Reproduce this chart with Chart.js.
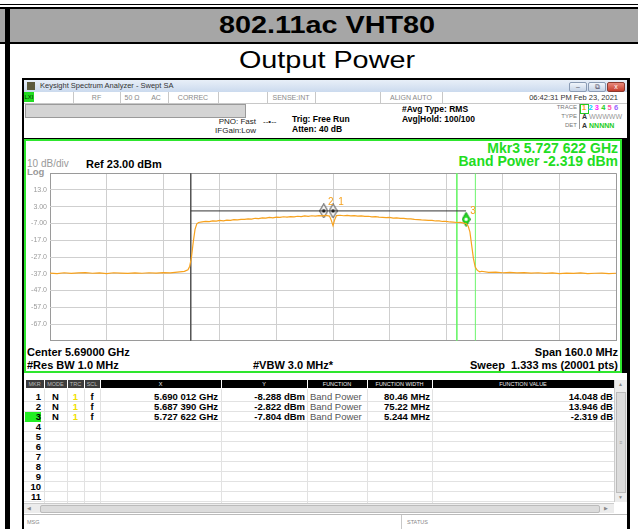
<!DOCTYPE html>
<html>
<head>
<meta charset="utf-8">
<title>802.11ac VHT80 Output Power</title>
<script src="https://cdn.jsdelivr.net/npm/chart.js@4.4.1/dist/chart.umd.min.js"></script>
<style>
  html, body { margin: 0; padding: 0; }
  body { width: 638px; height: 529px; overflow: hidden; position: relative; background: #fff;
         font-family: Arial, "Liberation Sans", sans-serif; color: #000; }
  .a { position: absolute; white-space: nowrap; }
  .b { font-weight: bold; }
  .vs { position: absolute; width: 1px; background: #c8c8c8; }
  .st { position: absolute; font-size: 7px; color: #8a8a8a; line-height: 11px; top: 92px; text-align: center; }
  .wb { position: absolute; top: 82px; width: 16px; height: 8px; border: 1px solid #8a9bb4; border-radius: 2px;
        background: linear-gradient(#f2f6fb, #c6d4e7); font-size: 7px; line-height: 8px; text-align: center; color: #556; }
  .hd { position: absolute; top: 380px; height: 8px; line-height: 8px; font-size: 5.5px; text-align: center; }
  .cell { position: absolute; font-size: 9.5px; line-height: 10px; height: 10px; }
</style>
</head>
<body>
<!-- page frame and titles -->
<div class="a" style="left:0;top:4px;width:638px;height:1px;background:#000"></div>
<div class="a" style="left:0;top:7px;width:638px;height:2px;background:#000"></div>
<div class="a" style="left:0;top:9px;width:638px;height:33px;background:#a6a6a6"></div>
<div class="a" style="left:0;top:42px;width:638px;height:2px;background:#000"></div>
<div class="a" style="left:5px;top:9px;width:5px;height:520px;background:#000"></div>
<div class="a b" style="left:8px;top:8px;width:638px;height:33px;line-height:33px;text-align:center;font-size:24px;transform:scaleX(1.2)">802.11ac VHT80</div>
<div class="a" style="left:8px;top:44px;width:638px;height:32px;line-height:32px;text-align:center;font-size:24px;transform:scaleX(1.2)">Output Power</div>

<!-- analyzer window -->
<div class="a" style="left:22px;top:78px;width:608px;height:460px;background:#000"></div>
<div class="a" style="left:24px;top:80px;width:603px;height:12px;background:linear-gradient(#e8eff8,#cbdaee)"></div>
<div class="a" style="left:27px;top:82px;width:8px;height:8px;background:#5b5a3c"></div>
<div class="a" style="left:40px;top:80px;height:12px;line-height:12px;font-size:7.5px;color:#333">Keysight Spectrum Analyzer - Swept SA</div>
<div class="wb" style="left:569px">&#8211;</div>
<div class="wb" style="left:588px">&#10697;</div>
<div class="wb" style="left:607px;background:linear-gradient(#e88a7c,#c63f2e);border-color:#8a3a30;color:#fff">x</div>

<!-- status row -->
<div class="a" style="left:24px;top:92px;width:603px;height:46px;background:#fff"></div>
<div class="a" style="left:24px;top:103px;width:603px;height:1px;background:#c8c8c8"></div>
<div class="a" style="left:24px;top:92px;width:10px;height:10px;background:#22dd22;font-size:6px;line-height:10px;text-align:center;color:#030">LXI</div>
<div class="vs" style="left:73px;top:92px;height:11px"></div>
<div class="vs" style="left:120px;top:92px;height:11px"></div>
<div class="vs" style="left:168px;top:92px;height:11px"></div>
<div class="vs" style="left:218px;top:92px;height:11px"></div>
<div class="vs" style="left:267px;top:92px;height:11px"></div>
<div class="vs" style="left:315px;top:92px;height:11px"></div>
<div class="vs" style="left:380px;top:92px;height:11px"></div>
<div class="vs" style="left:442px;top:92px;height:11px"></div>
<div class="st" style="left:73px;width:47px">RF</div>
<div class="st" style="left:120px;width:24px">50 &#937;</div>
<div class="st" style="left:144px;width:24px">AC</div>
<div class="st" style="left:168px;width:50px">CORREC</div>
<div class="st" style="left:267px;width:48px">SENSE:INT</div>
<div class="st" style="left:380px;width:62px">ALIGN AUTO</div>
<div class="st" style="left:520px;width:98px;text-align:right;color:#333;font-size:7.5px">06:42:31 PM Feb 23, 2021</div>

<!-- settings area -->
<div class="a" style="left:25px;top:104px;width:219px;height:12px;background:#d4d4d4;border:1px solid #9a9a9a"></div>
<div class="a" style="left:212px;top:117px;width:44px;text-align:right;font-size:8px;line-height:9px;color:#222">PNO: Fast</div>
<div class="a" style="left:212px;top:126px;width:44px;text-align:right;font-size:8px;line-height:9px;color:#222">IFGain:Low</div>
<div class="a" style="left:263px;top:117px;font-size:8px;line-height:9px;color:#222">--&#8226;--</div>
<div class="a b" style="left:292px;top:114px;font-size:8.5px;line-height:10px">Trig: Free Run</div>
<div class="a b" style="left:292px;top:124px;font-size:8.5px;line-height:10px">Atten: 40 dB</div>
<div class="a b" style="left:402px;top:104px;font-size:8.5px;line-height:10px">#Avg Type: RMS</div>
<div class="a b" style="left:402px;top:114px;font-size:8.5px;line-height:10px">Avg|Hold: 100/100</div>
<div class="a" style="left:540px;top:103px;width:37px;text-align:right;font-size:6px;line-height:9px;color:#777">TRACE<br>TYPE<br>DET</div>
<div class="a" style="left:579px;top:104px;width:45px;height:25px;border-left:1px solid #999"></div>
<div class="a" style="left:580px;top:104px;width:7px;height:8px;border:1px solid #2c2"></div>
<div class="a b" style="left:582px;top:103px;font-size:7.5px;line-height:10px;letter-spacing:2.2px">
  <span style="color:#f7a21e">1</span><span style="color:#00d0ff">2</span><span style="color:#ff22ff">3</span><span style="color:#22cc22">4</span><span style="color:#ff55aa">5</span><span style="color:#9966ff">6</span>
</div>
<div class="a" style="left:582px;top:112px;font-size:7px;line-height:9px;color:#999"><b style="color:#333">A</b> WWWWW</div>
<div class="a" style="left:582px;top:121px;font-size:7px;line-height:9px;color:#22cc22"><b style="color:#333">A</b> <b>NNNNN</b></div>

<!-- plot panel -->
<div class="a" style="left:24px;top:139px;width:598px;height:234px;box-sizing:border-box;border:2px solid #2ee62e;background:#fff"></div>
<div class="a b" style="left:300px;top:141px;width:318px;text-align:right;font-size:14px;line-height:14px;color:#22dd22">Mkr3 5.727 622 GHz</div>
<div class="a b" style="left:300px;top:154px;width:318px;text-align:right;font-size:14px;line-height:14px;color:#22dd22">Band Power -2.319 dBm</div>
<div class="a" style="left:27px;top:158px;font-size:10px;line-height:12px;color:#999">10 dB/div</div>
<div class="a b" style="left:86px;top:158px;font-size:11px;line-height:12px">Ref 23.00 dBm</div>
<div class="a b" style="left:27px;top:167px;font-size:9.5px;line-height:10px;color:#999">Log</div>
<div class="a b" style="left:27px;top:346px;font-size:11px;line-height:13px">Center 5.69000 GHz</div>
<div class="a b" style="left:27px;top:359px;font-size:11px;line-height:13px">#Res BW 1.0 MHz</div>
<div class="a b" style="left:253px;top:359px;font-size:11px;line-height:13px">#VBW 3.0 MHz*</div>
<div class="a b" style="left:400px;top:346px;width:218px;text-align:right;font-size:11px;line-height:13px">Span 160.0 MHz</div>
<div class="a b" style="left:400px;top:359px;width:218px;text-align:right;font-size:11px;line-height:13px">Sweep&nbsp; 1.333 ms (20001 pts)</div>
<canvas id="spectrum" width="596" height="182" style="position:absolute;left:26px;top:166px"></canvas>

<!-- marker table -->
<div class="a" style="left:24px;top:373px;width:603px;height:160px;background:#fff"></div>
<div id="table"></div>
<div class="a" style="left:614px;top:380px;width:12px;height:122px;background:#ececec;border-left:1px solid #ccc"></div>
<div class="a" style="left:616px;top:392px;width:8px;height:99px;background:#dcdcdc;border:1px solid #bbb;font-size:5px;color:#999;line-height:99px;text-align:center">&#8801;</div>
<div class="a" style="left:615px;top:381px;width:11px;font-size:5px;color:#888;text-align:center">&#9650;</div>
<div class="a" style="left:615px;top:494px;width:11px;font-size:5px;color:#888;text-align:center">&#9660;</div>
<div class="a" style="left:24px;top:503px;width:590px;height:9px;background:#ececec;border-top:1px solid #ccc"></div>
<div class="a" style="left:40px;top:505px;width:558px;height:6px;background:#dcdcdc;border:1px solid #bbb;border-radius:2px"></div>
<div class="a" style="left:27px;top:503px;font-size:5px;color:#888;line-height:10px">&#9664;</div>
<div class="a" style="left:604px;top:503px;font-size:5px;color:#888;line-height:10px">&#9654;</div>
<div class="a" style="left:24px;top:514px;width:603px;height:1px;background:#bbb"></div>
<div class="a" style="left:27px;top:516px;font-size:5.5px;color:#888;line-height:12px">MSG</div>
<div class="vs" style="left:401px;top:515px;height:14px"></div>
<div class="a" style="left:407px;top:516px;font-size:5.5px;color:#888;line-height:12px">STATUS</div>

<script>
// sweep trace (frequency in MHz, level in dBm)
const freqMHz = [
  5610, 5612, 5614, 5616, 5618, 5620, 5622, 5624, 5626, 5628,
  5630, 5632, 5634, 5636, 5638, 5640, 5642, 5644, 5646, 5648,
  5649, 5649.5, 5650, 5650.5, 5651, 5651.5, 5652,
  5653, 5654, 5655, 5656, 5657, 5658, 5659, 5660, 5661, 5662,
  5663, 5664, 5665, 5666, 5667, 5668, 5669, 5670, 5671, 5672,
  5673, 5674, 5675, 5676, 5677, 5678, 5679, 5680, 5681, 5682,
  5683, 5684, 5685, 5686, 5687, 5688, 5689, 5689.5, 5690, 5690.5,
  5691, 5692, 5693, 5694, 5695, 5696, 5697, 5698, 5699, 5700,
  5701, 5702, 5703, 5704, 5705, 5706, 5707, 5708, 5709, 5710,
  5711, 5712, 5713, 5714, 5715, 5716, 5717, 5718, 5719, 5720,
  5721, 5722, 5723, 5724, 5725, 5726, 5727, 5727.6,
  5728.2, 5728.7, 5729.2, 5729.7, 5730.2, 5730.8, 5731.5, 5732,
  5734, 5736, 5738, 5740, 5742, 5744, 5746, 5748, 5750, 5752,
  5754, 5756, 5758, 5760, 5762, 5764, 5766, 5768, 5770
];
const levelDbm = [
  -36.6, -36.9, -36.4, -36.8, -36.5, -36.3, -36.7, -36.5, -36.9, -36.4,
  -36.6, -36.8, -36.5, -36.7, -36.4, -36.6, -36.3, -36.5, -36.0, -35.6,
  -34.6, -32.5, -27.0, -18.0, -10.5, -7.2, -6.4,
  -6.0, -5.8, -5.9, -5.5, -5.6, -5.2, -5.4, -5.0, -5.1, -4.7,
  -4.9, -4.5, -4.6, -4.2, -4.4, -3.9, -4.1, -3.7, -3.8, -3.4,
  -3.6, -3.2, -3.4, -3.0, -3.2, -2.9, -3.0, -2.7, -2.9, -2.5,
  -2.7, -2.4, -2.6, -2.3, -2.5, -2.2, -2.6, -5.0, -8.3, -4.6,
  -2.3, -2.1, -2.4, -2.2, -2.5, -2.3, -2.6, -2.5, -2.8, -2.7,
  -3.0, -2.9, -3.2, -3.3, -3.5, -3.4, -3.8, -3.7, -4.0, -4.0,
  -4.3, -4.2, -4.6, -4.7, -4.9, -5.0, -5.2, -5.1, -5.5, -5.4,
  -5.8, -5.7, -6.1, -6.2, -6.4, -6.3, -6.8, -7.0,
  -8.5, -12.0, -20.0, -28.0, -33.0, -35.0, -35.8, -35.5,
  -36.2, -36.0, -36.4, -36.2, -36.5, -36.3, -36.6, -36.4, -36.8, -36.5,
  -36.9, -36.6, -36.8, -36.5, -36.9, -36.7, -36.6, -36.9, -36.7
];

// graticule: ref 23 dBm, 10 dB/div; center 5690 MHz, span 160 MHz
const yGridDbm = [23, 13, 3, -7, -17, -27, -37, -47, -57, -67, -77];
const yTickLabels = ['', '13.0', '3.00', '-7.00', '-17.0', '-27.0', '-37.0', '-47.0', '-57.0', '-67.0', ''];
const xGridMHz = [5610, 5626, 5642, 5658, 5674, 5690, 5706, 5722, 5738, 5754, 5770];

// markers as shown on screen
const markerNames = ['1', '2', '3'];
const markerFreqMHz = [5690.012, 5687.390, 5727.622];
const markerShownDbm = [0.5, 0.5, -4.5];
const bandEdgeMHz = [5649.78, 5727.62];   // band power bracket of marker 1
const bandLineDbm = 0.5;
const mkr3EdgesMHz = [5725.0, 5730.244];  // green band lines of marker 3

// marker table
const mkrMode = ['N', 'N', 'N'];
const mkrTrace = ['1', '1', '1'];
const mkrScale = ['f', 'f', 'f'];
const mkrX = ['5.690 012 GHz', '5.687 390 GHz', '5.727 622 GHz'];
const mkrY = ['-8.288 dBm', '-2.822 dBm', '-7.804 dBm'];
const mkrFunc = ['Band Power', 'Band Power', 'Band Power'];
const mkrFuncWidth = ['80.46 MHz', '75.22 MHz', '5.244 MHz'];
const mkrFuncValue = ['14.048 dB', '13.946 dB', '-2.319 dB'];
const tableHeaders = ['MKR', 'MODE', 'TRC', 'SCL', 'X', 'Y', 'FUNCTION', 'FUNCTION WIDTH', 'FUNCTION VALUE'];

// build the marker table
var cols = [
  { l: 25, w: 19, align: 'right', pad: 3 },
  { l: 44, w: 23, align: 'center', pad: 0 },
  { l: 67, w: 17, align: 'center', pad: 0 },
  { l: 84, w: 16, align: 'center', pad: 0 },
  { l: 100, w: 121, align: 'right', pad: 3 },
  { l: 221, w: 86, align: 'right', pad: 2 },
  { l: 307, w: 60, align: 'left', pad: 3 },
  { l: 367, w: 65, align: 'right', pad: 2 },
  { l: 432, w: 182, align: 'right', pad: 1 }
];
var rowTop = 392, rowH = 10;
var html = '';
tableHeaders.forEach(function (h, i) {
  var c = cols[i];
  var bg = i < 4 ? '#3c3c3c' : '#000';
  var fg = i < 4 ? '#bbb' : '#eee';
  html += '<div class="hd" style="left:' + (c.l + 0.5) + 'px;width:' + (c.w - 1) + 'px;background:' + bg + ';color:' + fg + '">' + h + '</div>';
});
for (var r = 0; r < 11; r++) {
  var y = rowTop + r * rowH;
  var vals = r < 3
    ? [String(r + 1), mkrMode[r], mkrTrace[r], mkrScale[r], mkrX[r], mkrY[r], mkrFunc[r], mkrFuncWidth[r], mkrFuncValue[r]]
    : [String(r + 1), '', '', '', '', '', '', '', ''];
  html += '<div class="a" style="left:24px;top:' + (y + rowH - 1) + 'px;width:590px;height:1px;background:#e2e2e2"></div>';
  vals.forEach(function (v, i) {
    var c = cols[i];
    var style = 'left:' + c.l + 'px;top:' + y + 'px;width:' + (c.w - c.pad) + 'px;text-align:' + c.align + ';';
    if (i === 6) style += 'color:#555;padding-left:' + c.pad + 'px;';
    else style += 'font-weight:bold;';
    if (i === 2) style += 'color:#f0e000;';
    if (i === 0 && r === 2) style += 'background:#22ee22;';
    html += '<div class="cell" style="' + style + '">' + v + '</div>';
  });
}
cols.forEach(function (c, i) {
  if (i > 0) html += '<div class="vs" style="left:' + c.l + 'px;top:389px;height:114px;background:#e2e2e2"></div>';
});
document.getElementById('table').innerHTML = html;

// tall diamond used for the marker symbols
function diamond(fill, stroke, dot) {
  var c = document.createElement('canvas');
  c.width = 9; c.height = 15;
  var g = c.getContext('2d');
  g.beginPath();
  g.moveTo(4.5, 0.5); g.lineTo(8.5, 7.5); g.lineTo(4.5, 14.5); g.lineTo(0.5, 7.5);
  g.closePath();
  g.fillStyle = fill; g.fill();
  g.strokeStyle = stroke; g.lineWidth = 1; g.stroke();
  g.beginPath(); g.arc(4.5, 7.5, 1.7, 0, Math.PI * 2);
  g.fillStyle = dot; g.fill();
  return c;
}
var whiteDiamond = diamond('#fff', '#333', '#000');
var greenDiamond = diamond('#22dd22', '#119911', '#fff');

var traceColor = '#f7a21e';

// marker numbers next to the diamonds
var markerLabels = {
  id: 'markerLabels',
  afterDatasetsDraw: function (chart) {
    var meta = chart.getDatasetMeta(4);
    var ctx = chart.ctx;
    var offs = [[8, -9], [7, -9], [7, -8]];
    ctx.save();
    ctx.font = '10px Arial';
    ctx.fillStyle = traceColor;
    ctx.textAlign = 'center';
    ctx.textBaseline = 'middle';
    meta.data.forEach(function (pt, i) {
      ctx.fillText(markerNames[i], pt.x + offs[i][0], pt.y + offs[i][1]);
    });
    ctx.restore();
  }
};

var frame = '#9a9a9a', grid = '#cfcfcf';
var ctx = document.getElementById('spectrum').getContext('2d');
var spectrum = new Chart(ctx, {
  type: 'line',
  data: {
    datasets: [
      {
        data: freqMHz.map(function (f, i) { return { x: f, y: levelDbm[i] }; }),
        borderColor: traceColor, borderWidth: 1.2, pointRadius: 0, tension: 0
      },
      {
        data: [{ x: bandEdgeMHz[0], y: bandLineDbm }, { x: bandEdgeMHz[1], y: bandLineDbm }],
        borderColor: '#333', borderWidth: 1, pointRadius: 0
      },
      {
        data: [{ x: bandEdgeMHz[0], y: 23 }, { x: bandEdgeMHz[0], y: -77 }],
        borderColor: '#555', borderWidth: 1, pointRadius: 0
      },
      {
        data: [
          { x: mkr3EdgesMHz[0], y: 23 }, { x: mkr3EdgesMHz[0], y: -77 },
          { x: mkr3EdgesMHz[0] + 1, y: null },
          { x: mkr3EdgesMHz[1], y: -77 }, { x: mkr3EdgesMHz[1], y: 23 }
        ],
        borderColor: '#6cf56c', borderWidth: 1, pointRadius: 0, spanGaps: false
      },
      {
        data: markerFreqMHz.map(function (f, i) { return { x: f, y: markerShownDbm[i] }; }),
        showLine: false,
        pointStyle: [whiteDiamond, whiteDiamond, greenDiamond],
        pointRadius: 5
      }
    ]
  },
  options: {
    responsive: false,
    devicePixelRatio: 1,
    animation: false,
    layout: { padding: { left: 0, right: 3, top: 6, bottom: 4 } },
    plugins: { legend: { display: false }, tooltip: { enabled: false } },
    scales: {
      x: {
        type: 'linear', min: 5610, max: 5770,
        afterBuildTicks: function (axis) { axis.ticks = xGridMHz.map(function (v) { return { value: v }; }); },
        afterFit: function (axis) { axis.height = 0; },
        ticks: { display: false },
        border: { display: false },
        grid: {
          drawTicks: false,
          color: function (c) { return (c.tick.value === 5610 || c.tick.value === 5770) ? frame : grid; }
        }
      },
      y: {
        type: 'linear', min: -77, max: 23,
        afterBuildTicks: function (axis) { axis.ticks = yGridDbm.map(function (v) { return { value: v }; }); },
        afterFit: function (axis) { axis.width = 24; },
        border: { display: false },
        grid: {
          drawTicks: false,
          color: function (c) { return (c.tick.value === 23 || c.tick.value === -77) ? frame : grid; }
        },
        ticks: {
          autoSkip: false, padding: 3, color: '#9a9a9a',
          font: { family: 'Arial', size: 7 },
          callback: function (v) { return yTickLabels[yGridDbm.indexOf(v)]; }
        }
      }
    }
  },
  plugins: [markerLabels]
});
</script>
</body>
</html>
